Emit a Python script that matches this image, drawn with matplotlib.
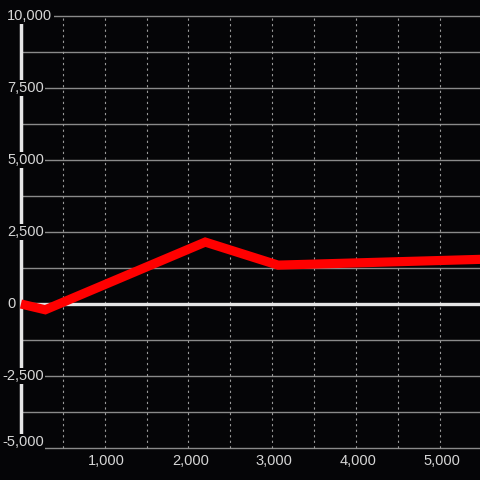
import matplotlib
matplotlib.use("Agg")
import matplotlib.pyplot as plt

# data
xs = [0, 290, 2200, 3070, 5600]
ys = [0, -200, 2150, 1350, 1560]

y_ticks = [-5000, -2500, 0, 2500, 5000, 7500, 10000]
y_grid = [-5000, -3750, -2500, -1250, 1250, 2500, 3750, 5000, 6250, 7500, 8750, 10000]
x_ticks = [1000, 2000, 3000, 4000, 5000]
x_grid = [500, 1000, 1500, 2000, 2500, 3000, 3500, 4000, 4500, 5000]

bg = '#050507'
txt = '#d6d6d6'

fig = plt.figure(figsize=(4.8, 4.8), dpi=100, facecolor=bg)
ax = fig.add_axes([0, 0, 1, 1])
ax.set_facecolor(bg)
ax.set_xlim(-250, 5480)
ax.set_ylim(-6111, 10556)
ax.axis('off')

# grid
ax.hlines(y_grid, 0, 6000, colors='#8a8a8a', linewidth=1, zorder=1)
ax.vlines(x_grid, -5000, 10000, colors='#9a9a9a', linewidth=0.8,
          linestyles=(0, (2, 3)), zorder=1)
ax.hlines(0, 0, 6000, colors='#e6e6e6', linewidth=2.4, zorder=2)
ax.vlines(0, -5000, 10000, colors='#e6e6e6', linewidth=2.5, zorder=2)

# series
ax.plot(xs, ys, color='#ff0000', linewidth=6.6, solid_joinstyle='miter',
        solid_capstyle='butt', zorder=3)

# y labels inside the plot with a box that hides the axis line
for v in y_ticks:
    s = f'{v:,}'
    xp = -165 if v >= 0 else -225
    yp = v if v > -5000 else v + 200
    ax.text(xp, yp, s, color=txt, fontsize=10.5, family='Liberation Sans',
            ha='left', va='center', zorder=4,
            bbox=dict(facecolor=bg, edgecolor='none', pad=1.0))

for v in x_ticks:
    ax.text(v + 25, -5450, f'{v:,}', color=txt, fontsize=10.5,
            family='Liberation Sans', ha='center', va='center', zorder=4)

fig.savefig('out.png', dpi=100, facecolor=bg)
